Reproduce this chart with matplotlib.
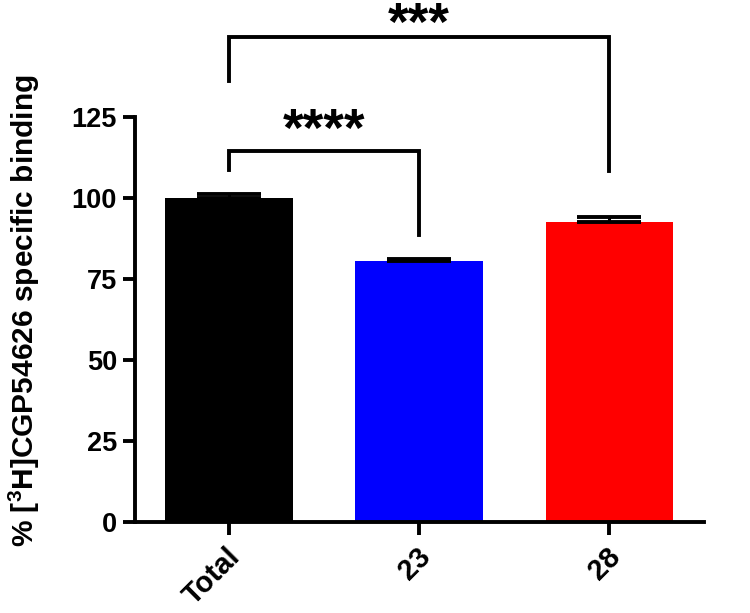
import numpy as np
import matplotlib.pyplot as plt
import matplotlib.transforms as mtransforms

plt.rcParams['font.family'] = ['Liberation Sans', 'DejaVu Sans']
plt.rcParams['font.weight'] = 'bold'
plt.rcParams['mathtext.fontset'] = 'custom'
plt.rcParams['mathtext.bf'] = 'Liberation Sans:bold'

# data
groups = ['Total', '23', '28']
means = [100.0, 80.5, 92.6]
sems = [1.2, 0.8, 1.5]
colors = ['#000000', '#0000ff', '#ff0000']

# significance brackets:
# (left idx, right idx, top y, left leg end, right leg end, star baseline y, stars)
brackets = [
    (0, 1, 114.6, 108.6, 88.6, 116.0, '****'),
    (0, 2, 149.8, 136.2, 108.3, 148.8, '***'),
]

fig = plt.figure(figsize=(7.5, 6.13), dpi=100, facecolor='white')
ax = fig.add_axes([0.18, 0.1484, 0.759, 0.6607])

x = np.arange(len(groups))
ax.bar(x, means, width=0.67, color=colors, edgecolor='none', zorder=2)
for xi, m, s in zip(x, means, sems):
    ax.errorbar(xi, m, yerr=[[0], [s]], fmt='none', ecolor='black',
                elinewidth=2.2, capsize=23, capthick=2.8, zorder=3)

for i, j, top, yl, yr, ty, txt in brackets:
    ax.plot([x[i], x[i], x[j], x[j]], [yl, top, top, yr], color='black',
            lw=2.8, clip_on=False, solid_joinstyle='miter', zorder=4)
    ax.text((x[i] + x[j]) / 2, ty, txt, ha='center', va='baseline',
            fontsize=38, fontweight='bold', clip_on=False)

ax.set_xlim(-0.495, 2.5)
ax.set_ylim(0, 125)
ax.set_yticks([0, 25, 50, 75, 100, 125])
ax.set_xticks(x)
ax.set_xticklabels(groups, rotation=45, ha='right', va='center',
                   rotation_mode='anchor')
ax.tick_params(axis='both', width=2.8, length=9, direction='out')
ax.tick_params(axis='y', labelsize=19.5, pad=4)
ax.tick_params(axis='x', labelsize=21, pad=6)
for lab in ax.get_xticklabels() + ax.get_yticklabels():
    lab.set_fontweight('bold')
# nudge the rotated labels down along the tick
shift = mtransforms.ScaledTranslation(0.07, -0.1, fig.dpi_scale_trans)
for lab in ax.get_xticklabels():
    lab.set_transform(lab.get_transform() + shift)

for side in ['top', 'right']:
    ax.spines[side].set_visible(False)
for side in ['left', 'bottom']:
    ax.spines[side].set_linewidth(2.8)

ax.set_ylabel('% [$^\\mathbf{3}$H]CGP54626 specific binding', fontsize=21.5,
              fontweight='bold')
ax.yaxis.set_label_coords(-0.163, 0.521)

fig.savefig('out.png', dpi=100, facecolor='white')
